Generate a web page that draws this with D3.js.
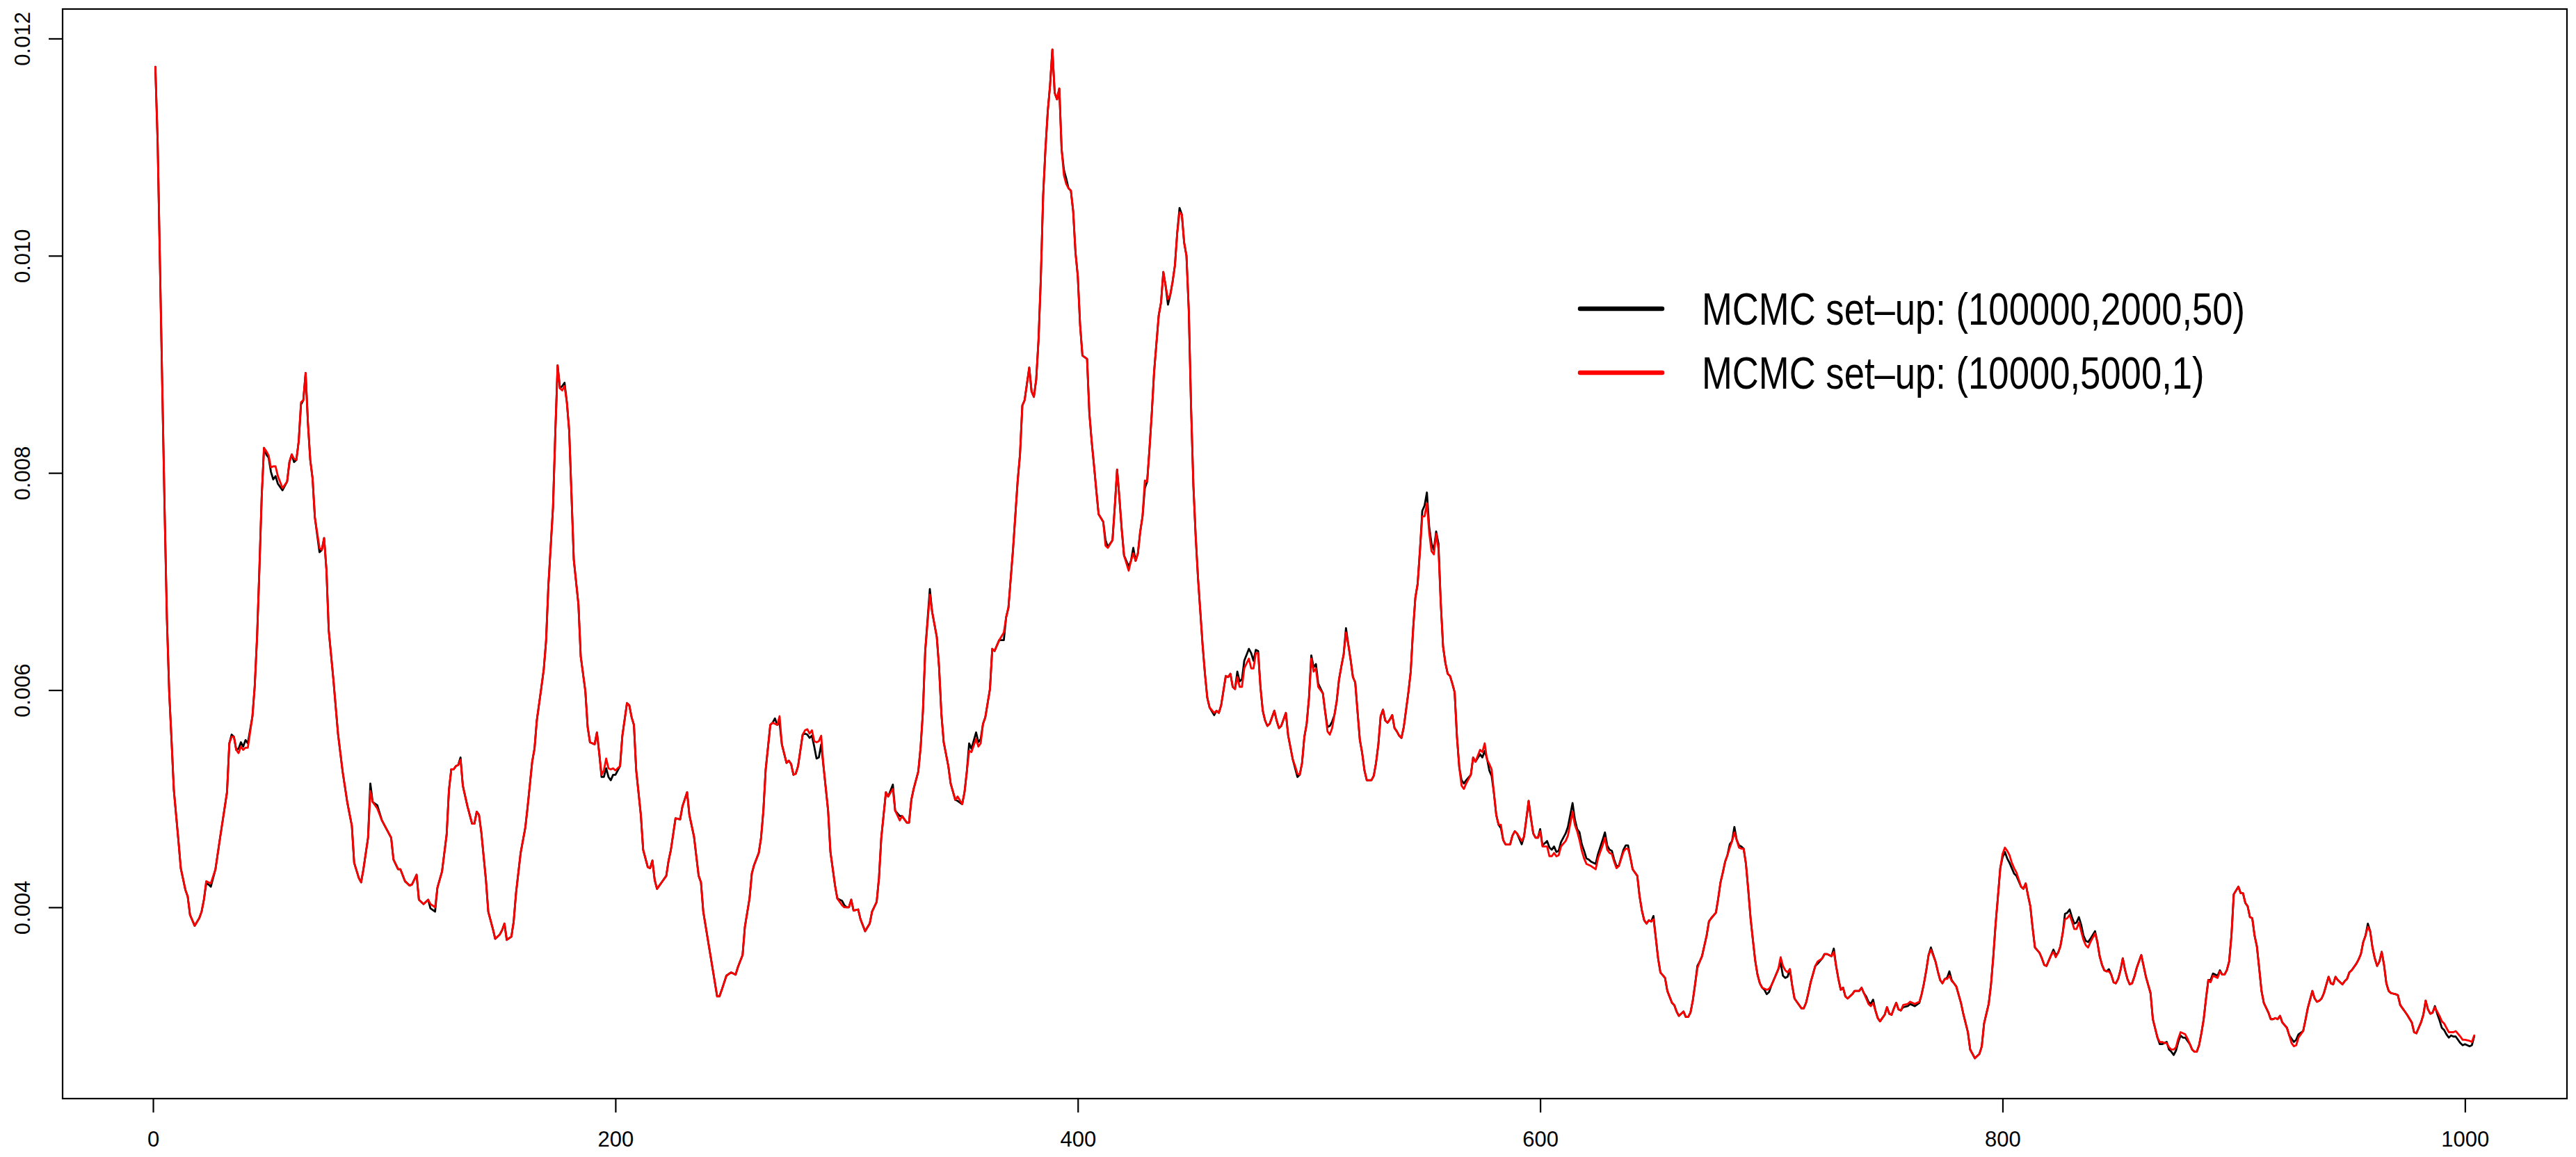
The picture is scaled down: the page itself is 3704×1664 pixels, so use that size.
<!DOCTYPE html>
<html>
<head>
<meta charset="utf-8">
<script src="https://cdn.jsdelivr.net/npm/d3@7"></script>
<style>
html, body { margin: 0; padding: 0; background: #ffffff; }
svg { display: block; }
text { font-family: "Liberation Sans", Arial, Helvetica, sans-serif; }
</style>
</head>
<body>
<svg id="chart" width="3704" height="1664"></svg>
<script>
// ---- data ----
const step = [
1,2,3,4,5,6,7,8,9,11,12,14,15,16,18,20,21,22,23,24,
25,27,29,31,32,33,34,35,36,37,38,39,40,41,43,44,45,46,47,48,
49,50,51,52,53,54,56,58,59,60,61,62,63,64,65,66,67,68,69,70,
72,73,74,75,76,78,80,82,84,86,87,89,90,91,93,94,95,97,99,101,
103,104,106,107,109,111,112,114,115,117,119,120,122,123,125,127,128,129,130,131,
132,133,134,136,138,139,140,141,142,144,145,147,148,150,151,152,153,155,156,157,
159,161,162,164,165,166,168,169,170,171,173,174,175,176,177,178,179,180,181,182,
184,185,187,188,189,191,192,193,194,195,196,197,198,199,200,202,203,205,206,207,
208,209,211,212,214,215,216,217,218,220,222,223,224,226,228,229,231,232,234,236,
237,238,240,242,244,245,246,248,250,252,253,255,256,258,259,260,262,263,264,265,
267,268,269,270,271,272,274,275,276,277,278,279,281,282,283,284,285,286,287,288,
289,290,292,293,295,296,298,299,300,301,302,303,305,306,308,310,311,313,314,315,
317,318,320,321,323,324,326,327,328,329,331,332,333,334,336,337,339,340,341,342,
344,345,347,348,350,351,352,353,354,356,357,358,359,360,362,363,364,366,368,369,
370,372,374,375,376,377,379,380,381,382,383,384,385,386,387,388,389,390,391,392,
393,394,395,396,397,398,399,400,401,402,404,405,406,407,408,409,411,412,413,415,
416,417,418,419,420,422,423,424,425,426,427,428,429,430,431,432,433,435,436,437,
438,439,440,441,442,443,444,445,446,447,448,449,450,451,452,453,454,455,456,457,
459,460,461,462,464,465,466,467,468,469,470,471,472,474,475,476,477,478,479,480,
481,482,483,485,486,487,488,490,491,493,494,495,496,497,498,499,500,501,502,503,
504,506,507,508,509,510,511,512,513,514,515,516,517,518,519,520,521,522,523,524,
525,527,528,529,530,531,532,533,534,535,536,537,538,539,540,541,542,543,544,545,
546,547,548,549,550,551,552,553,554,555,556,557,558,559,560,561,562,563,564,565,
566,567,568,570,571,572,574,575,576,577,578,579,580,581,582,583,584,585,587,588,
589,590,592,593,594,595,596,597,598,599,600,601,602,603,604,605,606,607,608,609,
611,612,614,615,616,617,618,619,620,621,622,624,625,627,628,629,630,631,632,633,
634,636,637,638,639,640,642,643,644,645,646,647,648,649,650,651,652,654,655,657,
658,659,660,662,663,664,665,666,667,668,669,670,672,673,674,676,677,678,679,680,
681,682,683,684,685,686,687,688,689,690,691,692,693,694,695,696,697,698,699,700,
701,702,703,704,705,706,707,708,709,710,711,713,714,715,716,717,719,720,722,723,
724,726,727,728,729,730,731,732,733,735,736,738,739,740,741,742,743,744,745,746,
747,748,749,750,751,752,753,754,755,756,757,759,760,762,764,765,766,767,768,769,
771,772,773,774,775,776,777,778,779,780,782,783,785,786,788,790,791,792,793,794,
795,796,797,798,799,800,801,802,803,804,805,806,808,809,810,811,812,813,814,816,
817,818,819,820,821,822,823,824,825,826,827,828,829,830,831,832,833,834,835,836,
837,838,840,841,842,843,844,845,846,847,848,849,850,851,852,853,854,855,856,857,
858,860,861,862,864,865,867,868,869,870,871,872,873,874,875,876,877,878,879,880,
881,882,883,884,885,886,887,888,889,890,891,893,894,895,896,897,898,899,900,902,
903,904,905,906,907,908,909,910,911,912,913,915,916,917,918,919,920,921,923,924,
925,926,927,928,930,931,932,934,935,936,937,938,939,941,942,943,944,945,947,948,
949,950,951,953,954,955,956,957,958,959,960,961,962,963,964,965,966,967,968,970,
971,972,973,974,975,977,978,979,981,982,983,984,985,986,987,988,989,990,991,992,
993,994,995,996,998,999,1000,1002,1003,1004
];

// MCMC set-up (100000,2000,50)  -- black line
const setupLong = [
0.01174,0.01104,0.00992,0.00879,0.00767,0.00666,0.00598,0.00554,0.00508,0.00461,0.00436,0.00416,0.00410,0.00393,0.00383,0.00390,0.00396,0.00407,0.00422,0.00421,
0.00419,0.00435,0.00464,0.00492,0.00506,0.00551,0.00559,0.00557,0.00545,0.00546,0.00552,0.00548,0.00554,0.00551,0.00576,0.00604,0.00649,0.00711,0.00778,0.00823,
0.00817,0.00814,0.00801,0.00794,0.00797,0.00790,0.00784,0.00792,0.00810,0.00817,0.00810,0.00812,0.00829,0.00863,0.00867,0.00892,0.00846,0.00812,0.00795,0.00759,
0.00727,0.00729,0.00740,0.00711,0.00655,0.00610,0.00560,0.00525,0.00497,0.00475,0.00441,0.00427,0.00423,0.00435,0.00464,0.00514,0.00497,0.00494,0.00480,0.00472,
0.00464,0.00444,0.00435,0.00435,0.00424,0.00420,0.00421,0.00430,0.00407,0.00403,0.00407,0.00399,0.00396,0.00418,0.00433,0.00467,0.00508,0.00527,0.00527,0.00530,
0.00531,0.00538,0.00512,0.00493,0.00477,0.00477,0.00488,0.00485,0.00469,0.00425,0.00396,0.00380,0.00371,0.00375,0.00379,0.00385,0.00370,0.00373,0.00387,0.00413,
0.00450,0.00473,0.00492,0.00534,0.00546,0.00572,0.00603,0.00619,0.00645,0.00696,0.00768,0.00837,0.00899,0.00878,0.00880,0.00883,0.00865,0.00839,0.00780,0.00720,
0.00679,0.00631,0.00599,0.00566,0.00552,0.00550,0.00561,0.00542,0.00520,0.00520,0.00528,0.00520,0.00517,0.00522,0.00522,0.00530,0.00558,0.00588,0.00586,0.00575,
0.00568,0.00526,0.00485,0.00453,0.00437,0.00436,0.00443,0.00425,0.00417,0.00423,0.00429,0.00443,0.00453,0.00482,0.00481,0.00493,0.00506,0.00485,0.00465,0.00429,
0.00423,0.00396,0.00370,0.00344,0.00318,0.00318,0.00324,0.00337,0.00340,0.00338,0.00345,0.00356,0.00382,0.00408,0.00431,0.00439,0.00450,0.00464,0.00489,0.00527,
0.00568,0.00570,0.00574,0.00568,0.00570,0.00550,0.00533,0.00535,0.00532,0.00522,0.00523,0.00530,0.00559,0.00560,0.00559,0.00556,0.00558,0.00548,0.00537,0.00538,
0.00550,0.00530,0.00489,0.00451,0.00420,0.00408,0.00406,0.00402,0.00400,0.00400,0.00407,0.00397,0.00398,0.00389,0.00378,0.00385,0.00396,0.00405,0.00427,0.00464,
0.00506,0.00502,0.00513,0.00489,0.00484,0.00484,0.00478,0.00478,0.00499,0.00509,0.00525,0.00547,0.00580,0.00636,0.00693,0.00672,0.00649,0.00621,0.00578,0.00552,
0.00530,0.00514,0.00499,0.00498,0.00495,0.00506,0.00525,0.00551,0.00546,0.00561,0.00552,0.00555,0.00569,0.00575,0.00601,0.00638,0.00636,0.00646,0.00646,0.00667,
0.00676,0.00730,0.00793,0.00817,0.00862,0.00867,0.00897,0.00875,0.00870,0.00886,0.00922,0.00979,0.01055,0.01098,0.01133,0.01157,0.01190,0.01150,0.01144,0.01154,
0.01098,0.01079,0.01071,0.01062,0.01060,0.01041,0.01003,0.00981,0.00936,0.00908,0.00905,0.00855,0.00829,0.00807,0.00784,0.00762,0.00755,0.00738,0.00732,0.00738,
0.00769,0.00803,0.00777,0.00748,0.00724,0.00714,0.00719,0.00731,0.00719,0.00726,0.00746,0.00760,0.00786,0.00792,0.00822,0.00855,0.00893,0.00945,0.00957,0.00985,
0.00972,0.00955,0.00964,0.00976,0.00991,0.01021,0.01044,0.01038,0.01012,0.01000,0.00950,0.00860,0.00788,0.00741,0.00703,0.00672,0.00641,0.00615,0.00593,0.00584,
0.00577,0.00581,0.00579,0.00586,0.00613,0.00612,0.00615,0.00603,0.00601,0.00617,0.00608,0.00610,0.00627,0.00638,0.00634,0.00627,0.00637,0.00636,0.00603,0.00581,
0.00572,0.00567,0.00569,0.00581,0.00572,0.00565,0.00567,0.00579,0.00558,0.00536,0.00528,0.00520,0.00522,0.00533,0.00557,0.00569,0.00593,0.00632,0.00621,0.00624,
0.00606,0.00597,0.00580,0.00566,0.00567,0.00571,0.00577,0.00590,0.00610,0.00622,0.00633,0.00657,0.00642,0.00628,0.00612,0.00607,0.00580,0.00554,0.00542,0.00526,
0.00517,0.00517,0.00521,0.00533,0.00550,0.00576,0.00582,0.00572,0.00570,0.00573,0.00577,0.00565,0.00562,0.00558,0.00556,0.00566,0.00582,0.00598,0.00617,0.00655,
0.00685,0.00698,0.00729,0.00765,0.00770,0.00782,0.00750,0.00735,0.00729,0.00746,0.00735,0.00680,0.00640,0.00625,0.00615,0.00613,0.00606,0.00598,0.00557,0.00529,
0.00517,0.00514,0.00517,0.00522,0.00538,0.00534,0.00541,0.00538,0.00544,0.00537,0.00526,0.00521,0.00505,0.00485,0.00476,0.00473,0.00462,0.00458,0.00458,0.00466,
0.00470,0.00468,0.00458,0.00465,0.00481,0.00498,0.00482,0.00468,0.00464,0.00464,0.00472,0.00457,0.00459,0.00461,0.00455,0.00453,0.00456,0.00451,0.00452,0.00460,
0.00468,0.00474,0.00496,0.00481,0.00472,0.00469,0.00458,0.00452,0.00445,0.00444,0.00442,0.00440,0.00449,0.00462,0.00469,0.00457,0.00453,0.00452,0.00444,0.00438,
0.00438,0.00453,0.00457,0.00457,0.00446,0.00435,0.00429,0.00410,0.00397,0.00388,0.00385,0.00388,0.00387,0.00392,0.00372,0.00353,0.00340,0.00335,0.00323,0.00312,
0.00310,0.00304,0.00300,0.00304,0.00299,0.00299,0.00303,0.00314,0.00329,0.00346,0.00350,0.00355,0.00374,0.00387,0.00390,0.00395,0.00408,0.00423,0.00432,0.00442,
0.00448,0.00458,0.00461,0.00474,0.00462,0.00457,0.00456,0.00454,0.00440,0.00416,0.00390,0.00370,0.00351,0.00338,0.00330,0.00326,0.00324,0.00320,0.00322,0.00328,
0.00333,0.00338,0.00343,0.00349,0.00337,0.00335,0.00336,0.00343,0.00328,0.00316,0.00313,0.00307,0.00307,0.00312,0.00321,0.00331,0.00346,0.00348,0.00353,0.00357,
0.00357,0.00355,0.00362,0.00346,0.00334,0.00324,0.00326,0.00318,0.00316,0.00320,0.00323,0.00323,0.00326,0.00321,0.00318,0.00313,0.00311,0.00315,0.00305,0.00298,
0.00295,0.00298,0.00301,0.00308,0.00302,0.00301,0.00307,0.00312,0.00306,0.00305,0.00308,0.00309,0.00311,0.00309,0.00312,0.00320,0.00330,0.00342,0.00356,0.00363,
0.00350,0.00341,0.00333,0.00330,0.00334,0.00335,0.00341,0.00333,0.00330,0.00327,0.00312,0.00302,0.00285,0.00269,0.00261,0.00265,0.00272,0.00293,0.00302,0.00311,
0.00329,0.00355,0.00385,0.00410,0.00436,0.00446,0.00451,0.00445,0.00441,0.00436,0.00431,0.00429,0.00419,0.00417,0.00422,0.00411,0.00401,0.00381,0.00363,0.00358,
0.00353,0.00347,0.00346,0.00351,0.00356,0.00361,0.00356,0.00358,0.00364,0.00376,0.00394,0.00395,0.00398,0.00391,0.00385,0.00386,0.00391,0.00384,0.00374,0.00369,
0.00368,0.00371,0.00378,0.00368,0.00355,0.00347,0.00342,0.00341,0.00343,0.00338,0.00331,0.00330,0.00334,0.00342,0.00353,0.00342,0.00334,0.00329,0.00330,0.00336,
0.00344,0.00356,0.00346,0.00336,0.00321,0.00297,0.00280,0.00274,0.00274,0.00275,0.00276,0.00269,0.00267,0.00264,0.00268,0.00276,0.00282,0.00280,0.00280,0.00277,
0.00274,0.00269,0.00267,0.00267,0.00273,0.00284,0.00297,0.00316,0.00333,0.00333,0.00339,0.00337,0.00342,0.00338,0.00338,0.00342,0.00350,0.00374,0.00412,0.00419,
0.00413,0.00413,0.00404,0.00401,0.00391,0.00390,0.00374,0.00364,0.00344,0.00323,0.00312,0.00303,0.00297,0.00297,0.00298,0.00297,0.00300,0.00294,0.00289,0.00282,
0.00279,0.00276,0.00278,0.00283,0.00286,0.00296,0.00307,0.00323,0.00316,0.00313,0.00314,0.00316,0.00321,0.00336,0.00330,0.00329,0.00336,0.00333,0.00329,0.00332,
0.00334,0.00340,0.00342,0.00348,0.00352,0.00357,0.00368,0.00374,0.00385,0.00378,0.00363,0.00353,0.00346,0.00350,0.00359,0.00347,0.00330,0.00323,0.00321,0.00320,
0.00319,0.00310,0.00307,0.00304,0.00301,0.00294,0.00285,0.00284,0.00294,0.00301,0.00314,0.00306,0.00302,0.00303,0.00309,0.00302,0.00296,0.00289,0.00287,0.00283,
0.00280,0.00282,0.00281,0.00281,0.00275,0.00273,0.00274,0.00272,0.00273,0.00281
];

// MCMC set-up (10000,5000,1)  -- red line
const setupShort = [
0.01174,0.01104,0.00992,0.00879,0.00767,0.00666,0.00598,0.00554,0.00508,0.00461,0.00436,0.00416,0.00410,0.00393,0.00383,0.00390,0.00396,0.00407,0.00424,0.00423,
0.00422,0.00435,0.00464,0.00492,0.00506,0.00551,0.00557,0.00557,0.00545,0.00542,0.00548,0.00545,0.00547,0.00547,0.00576,0.00604,0.00649,0.00711,0.00778,0.00823,
0.00820,0.00816,0.00805,0.00806,0.00806,0.00797,0.00786,0.00792,0.00810,0.00817,0.00813,0.00812,0.00829,0.00865,0.00867,0.00892,0.00846,0.00812,0.00795,0.00759,
0.00731,0.00729,0.00740,0.00711,0.00655,0.00610,0.00560,0.00525,0.00497,0.00475,0.00441,0.00427,0.00423,0.00435,0.00464,0.00507,0.00497,0.00491,0.00480,0.00472,
0.00464,0.00444,0.00435,0.00435,0.00424,0.00420,0.00421,0.00430,0.00407,0.00403,0.00407,0.00403,0.00400,0.00418,0.00433,0.00467,0.00508,0.00527,0.00527,0.00530,
0.00531,0.00536,0.00512,0.00493,0.00477,0.00477,0.00488,0.00485,0.00469,0.00425,0.00396,0.00380,0.00371,0.00375,0.00379,0.00385,0.00370,0.00373,0.00387,0.00413,
0.00450,0.00473,0.00492,0.00534,0.00546,0.00572,0.00603,0.00619,0.00645,0.00696,0.00768,0.00837,0.00899,0.00878,0.00876,0.00880,0.00865,0.00839,0.00780,0.00720,
0.00679,0.00631,0.00599,0.00566,0.00552,0.00550,0.00561,0.00542,0.00522,0.00526,0.00537,0.00528,0.00527,0.00528,0.00526,0.00530,0.00558,0.00588,0.00586,0.00575,
0.00568,0.00526,0.00485,0.00453,0.00437,0.00436,0.00443,0.00425,0.00417,0.00423,0.00429,0.00443,0.00453,0.00482,0.00481,0.00493,0.00506,0.00485,0.00465,0.00429,
0.00423,0.00396,0.00370,0.00344,0.00318,0.00318,0.00324,0.00337,0.00340,0.00338,0.00345,0.00356,0.00382,0.00408,0.00431,0.00439,0.00450,0.00464,0.00489,0.00527,
0.00568,0.00570,0.00569,0.00568,0.00576,0.00550,0.00533,0.00535,0.00532,0.00522,0.00523,0.00530,0.00559,0.00563,0.00564,0.00560,0.00563,0.00553,0.00552,0.00553,
0.00558,0.00530,0.00489,0.00451,0.00420,0.00408,0.00402,0.00400,0.00400,0.00400,0.00407,0.00397,0.00398,0.00389,0.00378,0.00385,0.00396,0.00405,0.00427,0.00464,
0.00506,0.00502,0.00509,0.00489,0.00480,0.00484,0.00478,0.00478,0.00499,0.00509,0.00525,0.00547,0.00580,0.00636,0.00688,0.00672,0.00649,0.00621,0.00578,0.00552,
0.00530,0.00514,0.00499,0.00502,0.00495,0.00506,0.00525,0.00544,0.00543,0.00555,0.00548,0.00551,0.00569,0.00575,0.00601,0.00638,0.00636,0.00646,0.00653,0.00667,
0.00676,0.00730,0.00793,0.00817,0.00862,0.00867,0.00897,0.00875,0.00870,0.00886,0.00922,0.00979,0.01055,0.01098,0.01133,0.01157,0.01190,0.01150,0.01144,0.01154,
0.01098,0.01074,0.01066,0.01062,0.01060,0.01041,0.01003,0.00981,0.00936,0.00908,0.00905,0.00855,0.00829,0.00807,0.00784,0.00762,0.00755,0.00733,0.00731,0.00738,
0.00769,0.00803,0.00777,0.00748,0.00724,0.00710,0.00719,0.00726,0.00719,0.00726,0.00746,0.00760,0.00793,0.00792,0.00822,0.00855,0.00893,0.00945,0.00957,0.00985,
0.00972,0.00960,0.00964,0.00976,0.00991,0.01021,0.01040,0.01038,0.01012,0.01000,0.00950,0.00860,0.00788,0.00741,0.00703,0.00672,0.00641,0.00615,0.00593,0.00584,
0.00579,0.00581,0.00579,0.00586,0.00613,0.00612,0.00615,0.00603,0.00601,0.00612,0.00603,0.00603,0.00620,0.00629,0.00620,0.00620,0.00634,0.00634,0.00603,0.00581,
0.00572,0.00567,0.00569,0.00581,0.00572,0.00565,0.00567,0.00579,0.00558,0.00536,0.00530,0.00523,0.00522,0.00533,0.00557,0.00569,0.00593,0.00629,0.00617,0.00620,
0.00603,0.00597,0.00580,0.00562,0.00559,0.00565,0.00577,0.00590,0.00610,0.00622,0.00633,0.00653,0.00642,0.00628,0.00612,0.00607,0.00580,0.00554,0.00542,0.00526,
0.00517,0.00517,0.00521,0.00533,0.00550,0.00576,0.00582,0.00572,0.00570,0.00573,0.00577,0.00565,0.00562,0.00558,0.00556,0.00566,0.00582,0.00598,0.00617,0.00655,
0.00685,0.00698,0.00729,0.00760,0.00760,0.00772,0.00745,0.00728,0.00725,0.00744,0.00730,0.00680,0.00640,0.00625,0.00615,0.00613,0.00606,0.00598,0.00557,0.00529,
0.00512,0.00509,0.00514,0.00522,0.00538,0.00534,0.00545,0.00543,0.00551,0.00536,0.00532,0.00527,0.00505,0.00485,0.00476,0.00476,0.00462,0.00458,0.00458,0.00466,
0.00470,0.00468,0.00461,0.00465,0.00481,0.00498,0.00482,0.00468,0.00464,0.00464,0.00470,0.00456,0.00456,0.00456,0.00447,0.00447,0.00450,0.00447,0.00448,0.00456,
0.00461,0.00466,0.00488,0.00476,0.00470,0.00462,0.00452,0.00445,0.00440,0.00439,0.00438,0.00435,0.00445,0.00457,0.00464,0.00453,0.00450,0.00449,0.00442,0.00436,
0.00438,0.00451,0.00454,0.00454,0.00446,0.00435,0.00429,0.00410,0.00397,0.00388,0.00385,0.00388,0.00387,0.00389,0.00372,0.00353,0.00340,0.00335,0.00323,0.00312,
0.00310,0.00304,0.00300,0.00304,0.00299,0.00299,0.00303,0.00314,0.00329,0.00344,0.00350,0.00355,0.00374,0.00387,0.00390,0.00395,0.00408,0.00423,0.00432,0.00442,
0.00448,0.00455,0.00461,0.00469,0.00462,0.00455,0.00454,0.00454,0.00440,0.00416,0.00390,0.00370,0.00351,0.00338,0.00330,0.00326,0.00325,0.00324,0.00325,0.00328,
0.00333,0.00338,0.00343,0.00354,0.00346,0.00342,0.00340,0.00343,0.00328,0.00316,0.00313,0.00307,0.00307,0.00312,0.00321,0.00331,0.00346,0.00350,0.00353,0.00357,
0.00357,0.00355,0.00359,0.00346,0.00334,0.00324,0.00326,0.00318,0.00316,0.00320,0.00323,0.00323,0.00326,0.00321,0.00316,0.00311,0.00309,0.00312,0.00305,0.00298,
0.00295,0.00298,0.00301,0.00308,0.00302,0.00301,0.00307,0.00312,0.00306,0.00305,0.00310,0.00311,0.00313,0.00311,0.00313,0.00320,0.00330,0.00342,0.00356,0.00361,
0.00350,0.00341,0.00333,0.00330,0.00334,0.00334,0.00337,0.00332,0.00330,0.00327,0.00312,0.00302,0.00285,0.00269,0.00261,0.00265,0.00272,0.00293,0.00302,0.00311,
0.00329,0.00355,0.00385,0.00410,0.00436,0.00449,0.00455,0.00452,0.00448,0.00441,0.00436,0.00432,0.00419,0.00417,0.00422,0.00411,0.00401,0.00381,0.00363,0.00358,
0.00353,0.00347,0.00346,0.00351,0.00356,0.00359,0.00354,0.00358,0.00364,0.00376,0.00389,0.00390,0.00393,0.00387,0.00380,0.00380,0.00386,0.00378,0.00370,0.00365,
0.00363,0.00368,0.00376,0.00368,0.00355,0.00347,0.00342,0.00341,0.00341,0.00338,0.00331,0.00330,0.00334,0.00342,0.00353,0.00342,0.00334,0.00329,0.00330,0.00336,
0.00344,0.00356,0.00346,0.00336,0.00321,0.00297,0.00280,0.00276,0.00276,0.00275,0.00275,0.00271,0.00269,0.00269,0.00271,0.00279,0.00285,0.00284,0.00283,0.00279,
0.00274,0.00269,0.00267,0.00267,0.00273,0.00284,0.00297,0.00316,0.00333,0.00331,0.00337,0.00335,0.00341,0.00338,0.00338,0.00342,0.00350,0.00374,0.00412,0.00419,
0.00413,0.00413,0.00404,0.00401,0.00391,0.00390,0.00374,0.00364,0.00344,0.00323,0.00312,0.00303,0.00297,0.00297,0.00298,0.00297,0.00300,0.00294,0.00289,0.00282,
0.00275,0.00272,0.00273,0.00280,0.00286,0.00296,0.00307,0.00323,0.00316,0.00313,0.00314,0.00316,0.00321,0.00336,0.00330,0.00329,0.00336,0.00333,0.00329,0.00332,
0.00334,0.00340,0.00342,0.00348,0.00352,0.00357,0.00368,0.00374,0.00382,0.00378,0.00363,0.00353,0.00346,0.00350,0.00359,0.00347,0.00330,0.00323,0.00321,0.00320,
0.00319,0.00310,0.00307,0.00304,0.00301,0.00294,0.00285,0.00284,0.00294,0.00301,0.00314,0.00306,0.00302,0.00303,0.00308,0.00304,0.00300,0.00295,0.00293,0.00289,
0.00285,0.00285,0.00285,0.00286,0.00281,0.00278,0.00278,0.00277,0.00276,0.00282
];

const xTicks = [0, 200, 400, 600, 800, 1000];
const yTicks = [0.004, 0.006, 0.008, 0.010, 0.012];
const yTickLabels = ["0.004", "0.006", "0.008", "0.010", "0.012"];
const seriesNames = ["MCMC set\u2013up: (100000,2000,50)", "MCMC set\u2013up: (10000,5000,1)"];
const seriesColors = ["#000000", "#ff0000"];

// ---- layout ----
const W = 3704, H = 1664;
const plot = { left: 90, right: 3691, top: 13, bottom: 1580 };
const font = 31;
const fam = '"Liberation Sans", Arial, Helvetica, sans-serif';

const svg = d3.select("#chart");
svg.append("rect").attr("x", 0).attr("y", 0).attr("width", W).attr("height", H).attr("fill", "#ffffff");

const n = Math.min(step.length, setupLong.length, setupShort.length);
const longPts = d3.range(n).map(i => ({ s: step[i], v: setupLong[i] }));
const shortPts = d3.range(n).map(i => ({ s: step[i], v: setupShort[i] }));

// R-style 4% padding of the data range
const xExt = d3.extent(step);
const xPad = 0.04 * (xExt[1] - xExt[0]);
const x = d3.scaleLinear().domain([xExt[0] - xPad, xExt[1] + xPad]).range([plot.left, plot.right]);
const yExt = d3.extent(setupLong.concat(setupShort));
const yPad = 0.04 * (yExt[1] - yExt[0]);
const y = d3.scaleLinear().domain([yExt[0] - yPad, yExt[1] + yPad]).range([plot.bottom, plot.top]);

// series lines
const line = d3.line().x(d => x(d.s)).y(d => y(d.v));
[longPts, shortPts].forEach((pts, i) => {
  svg.append("path")
    .datum(pts)
    .attr("d", line)
    .attr("fill", "none")
    .attr("stroke", seriesColors[i])
    .attr("stroke-width", 2.8)
    .attr("stroke-linejoin", "round")
    .attr("stroke-linecap", "round");
});

// box
svg.append("rect")
  .attr("x", plot.left).attr("y", plot.top)
  .attr("width", plot.right - plot.left).attr("height", plot.bottom - plot.top)
  .attr("fill", "none").attr("stroke", "#000").attr("stroke-width", 2.2);

// x axis
const xAxis = svg.append("g")
  .attr("transform", `translate(0,${plot.bottom})`)
  .call(d3.axisBottom(x).tickValues(xTicks).tickSize(20).tickPadding(27).tickFormat(d3.format("d")));
xAxis.select(".domain").remove();
xAxis.selectAll(".tick line").attr("stroke", "#000").attr("stroke-width", 2.2);
xAxis.selectAll(".tick text").attr("fill", "#000").style("font-size", font + "px").style("font-family", fam);

// y axis
const yAxis = svg.append("g")
  .attr("transform", `translate(${plot.left},0)`)
  .call(d3.axisLeft(y).tickValues(yTicks).tickSize(20).tickFormat((d, i) => yTickLabels[i]));
yAxis.select(".domain").remove();
yAxis.selectAll(".tick line").attr("stroke", "#000").attr("stroke-width", 2.2);
yAxis.selectAll(".tick text")
  .attr("x", null).attr("dy", null).attr("y", null)
  .attr("transform", "translate(-47,0) rotate(-90)")
  .attr("text-anchor", "middle")
  .attr("fill", "#000")
  .style("font-size", font + "px")
  .style("font-family", fam);

// legend (tall, narrow lettering as in the reference)
const legendFont = 65;
const legendSquash = 0.81;
const legendRows = [444, 536];
const legend = svg.append("g");
seriesNames.forEach((name, i) => {
  legend.append("line")
    .attr("x1", 2272).attr("x2", 2390)
    .attr("y1", legendRows[i]).attr("y2", legendRows[i])
    .attr("stroke", seriesColors[i]).attr("stroke-width", 6.5).attr("stroke-linecap", "round");
  legend.append("g")
    .attr("transform", `translate(2447,${legendRows[i] + 0.36 * legendFont}) scale(${legendSquash},1)`)
    .append("text")
    .attr("x", 0).attr("y", 0)
    .attr("fill", "#000")
    .style("font-size", legendFont + "px")
    .style("font-family", fam)
    .text(name);
});
</script>
</body>
</html>
